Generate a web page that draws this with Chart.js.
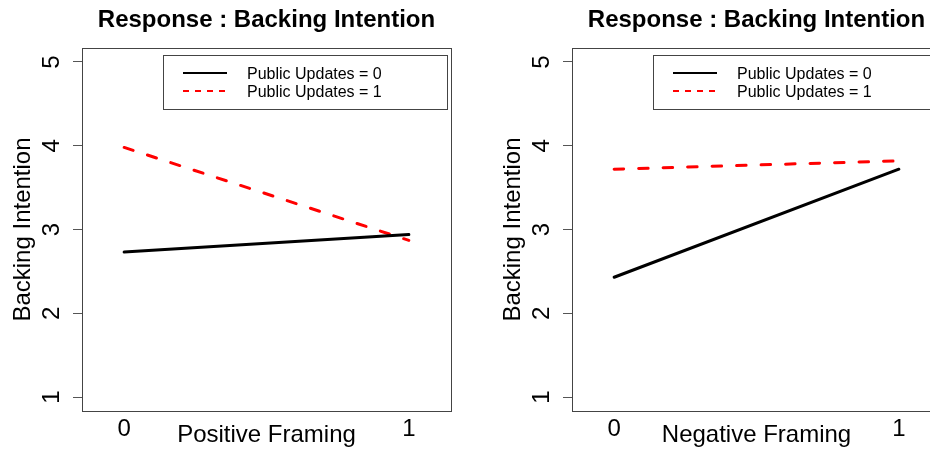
<!DOCTYPE html>
<html>
<head>
<meta charset="utf-8">
<script src="https://cdn.jsdelivr.net/npm/chart.js@4"></script>
<style>
  html, body { margin: 0; padding: 0; background: #fff; }
  #wrap { position: relative; width: 930px; height: 449px; overflow: hidden; }
  canvas { position: absolute; top: 0; }
</style>
</head>
<body>
<div id="wrap">
  <canvas id="left" width="465" height="449" style="left:0"></canvas>
  <canvas id="right" width="465" height="449" style="left:490px"></canvas>
</div>
<script>
// data
const framing = [0, 1];
const yTicks = [1, 2, 3, 4, 5];
const seriesLabels = ['Public Updates = 0', 'Public Updates = 1'];

const positiveUpdates0 = [2.73, 2.94];
const positiveUpdates1 = [3.98, 2.87];
const negativeUpdates0 = [2.43, 3.72];
const negativeUpdates1 = [3.72, 3.82];

const titleText = 'Response : Backing Intention';
const yTitle = 'Backing Intention';

const FONT = '"Liberation Sans", Arial, sans-serif';

// draws the R-style frame, title, rotated y labels and legend
const rStyle = {
  id: 'rStyle',
  afterDraw(chart) {
    const ctx = chart.ctx;
    const ca = chart.chartArea;
    const cx = (ca.left + ca.right) / 2;
    const cy = (ca.top + ca.bottom) / 2;
    const opts = chart.options.plugins.rStyle;

    ctx.save();
    // plot box
    ctx.strokeStyle = '#444';
    ctx.lineWidth = 1;
    ctx.strokeRect(ca.left + 0.5, ca.top + 0.5, ca.right - ca.left, ca.bottom - ca.top);

    ctx.fillStyle = '#000';
    // main title
    ctx.font = 'bold 24px ' + FONT;
    ctx.textAlign = 'center';
    ctx.textBaseline = 'alphabetic';
    ctx.fillText(titleText, cx, 27);

    // x title
    ctx.font = '24px ' + FONT;
    ctx.fillText(opts.xTitle, cx, 441.5);

    // y title, rotated
    ctx.save();
    ctx.translate(ca.left - 52, cy);
    ctx.rotate(-Math.PI / 2);
    ctx.fillText(yTitle, 0, 0);
    ctx.restore();

    // y tick labels, parallel to the axis
    const ys = chart.scales.y;
    ctx.font = '24px ' + FONT;
    ys.ticks.forEach(t => {
      ctx.save();
      ctx.translate(ca.left - 23, ys.getPixelForValue(t.value));
      ctx.rotate(-Math.PI / 2);
      ctx.fillText(String(t.value), 0, 0);
      ctx.restore();
    });

    // legend
    const bw = 284, bh = 54;
    const bx = ca.right - 4 - bw, by = ca.top + 7;
    ctx.strokeStyle = '#444';
    ctx.lineWidth = 1;
    ctx.strokeRect(Math.round(bx) + 0.5, Math.round(by) + 0.5, bw, bh);
    ctx.font = '16px ' + FONT;
    ctx.textAlign = 'left';
    chart.data.datasets.forEach((ds, i) => {
      const ry = by + 18 + i * 18;
      ctx.beginPath();
      ctx.strokeStyle = ds.borderColor;
      ctx.lineWidth = 2;
      ctx.setLineDash(ds.borderDash.length ? [6, 6] : []);
      ctx.moveTo(bx + 20, ry);
      ctx.lineTo(bx + 64, ry);
      ctx.stroke();
      ctx.setLineDash([]);
      ctx.fillStyle = '#000';
      ctx.fillText(ds.label, bx + 84, ry + 5.5);
    });
    ctx.restore();
  }
};

function makePanel(id, xTitle, updates0, updates1) {
  const toPoints = arr => framing.map((x, i) => ({ x: x, y: arr[i] }));
  return new Chart(document.getElementById(id), {
    type: 'line',
    data: {
      datasets: [
        {
          label: seriesLabels[0],
          data: toPoints(updates0),
          borderColor: '#000000',
          borderWidth: 3,
          borderDash: [],
          borderCapStyle: 'round',
          pointRadius: 0,
          tension: 0
        },
        {
          label: seriesLabels[1],
          data: toPoints(updates1),
          borderColor: '#ff0000',
          borderWidth: 3,
          borderDash: [9.5, 15],
          borderCapStyle: 'round',
          pointRadius: 0,
          tension: 0
        }
      ]
    },
    options: {
      responsive: false,
      animation: false,
      layout: { padding: { top: 48, right: 14, bottom: 0, left: 0 } },
      plugins: {
        legend: { display: false },
        tooltip: { enabled: false },
        rStyle: { xTitle: xTitle }
      },
      scales: {
        x: {
          type: 'linear',
          min: -0.148,
          max: 1.148,
          afterBuildTicks: s => { s.ticks = framing.map(v => ({ value: v })); },
          afterFit: s => { s.height = 38; },
          grid: { display: false, drawTicks: false },
          border: { display: false },
          ticks: {
            padding: 4,
            color: '#000',
            font: { family: FONT, size: 24 },
            maxRotation: 0
          }
        },
        y: {
          type: 'linear',
          min: 0.833,
          max: 5.167,
          afterBuildTicks: s => { s.ticks = yTicks.map(v => ({ value: v })); },
          afterFit: s => { s.width = 82; },
          grid: { drawOnChartArea: false, drawTicks: true, tickLength: 9, color: '#555' },
          border: { display: false },
          ticks: { display: false }
        }
      }
    },
    plugins: [rStyle]
  });
}

makePanel('left', 'Positive Framing', positiveUpdates0, positiveUpdates1);
makePanel('right', 'Negative Framing', negativeUpdates0, negativeUpdates1);
</script>
</body>
</html>
